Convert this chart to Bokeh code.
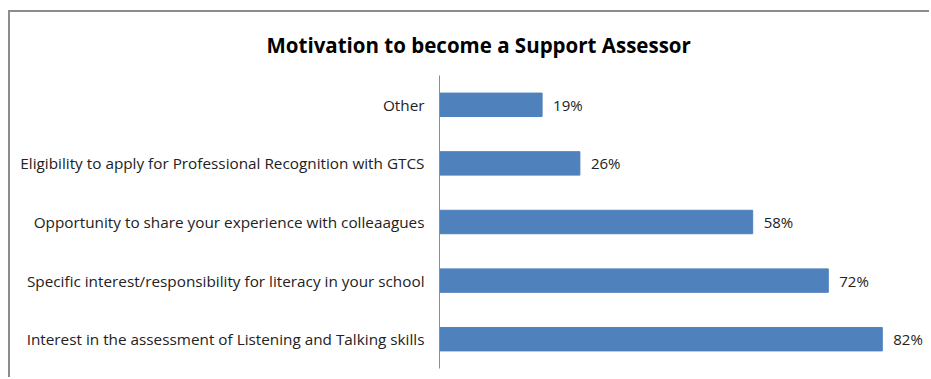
from bokeh.plotting import figure
from bokeh.models import ColumnDataSource, FactorRange, Range1d, LabelSet
from bokeh.core.properties import value
from bokeh.embed import file_html
from bokeh.resources import INLINE

# Survey responses, listed bottom to top
reasons = [
    "Interest in the assessment of Listening and Talking skills",
    "Specific interest/responsibility for literacy in your school",
    "Opportunity to share your experience with colleaagues",
    "Eligibility to apply for Professional Recognition with GTCS",
    "Other",
]
shares = [82, 72, 58, 26, 19]
share_labels = [f"{v}%" for v in shares]
chart_title = "Motivation to become a Support Assessor"

src = ColumnDataSource(dict(reason=reasons, share=shares, label=share_labels))

FONT = "Open Sans"

p = figure(
    width=921, height=367,
    y_range=FactorRange(factors=reasons, range_padding=0),
    x_range=Range1d(0, 90),
    output_backend="svg", toolbar_location=None,
    min_border_left=429, min_border_right=6,
    min_border_top=60, min_border_bottom=11,
    title=chart_title,
    styles={
        "margin-left": "8px", "margin-top": "10px",
        "border-left": "2px solid #8c8c8c", "border-top": "2px solid #8c8c8c",
    },
)
# title centred over the whole chart rather than over the plotting frame
p.title.align = "left"
p.title.offset = -173
p.title.text_font = FONT
p.title.text_font_size = "20.5px"
p.title.text_font_style = "bold"
p.title.text_color = "#000000"
p.title.standoff = 33

p.hbar(y="reason", right="share", height=0.4, source=src,
       fill_color="#4F81BD", line_color="#4F81BD")

p.add_layout(LabelSet(x="share", y="reason", text="label", source=src,
                      x_offset=11, text_baseline="middle",
                      text_font=value(FONT), text_font_size="15px",
                      text_color="#222222"))

p.xaxis.visible = False
p.xgrid.visible = False
p.ygrid.visible = False
p.outline_line_color = None

ax = p.yaxis[0]
ax.major_tick_line_color = None
ax.minor_tick_line_color = None
ax.major_tick_out = 0
ax.major_tick_in = 0
ax.axis_line_color = "#8c8c8c"
ax.major_label_text_font = FONT
ax.major_label_text_font_size = "15.3px"
ax.major_label_text_color = "#222222"
ax.major_label_standoff = 15

open("out.html", "w").write(file_html(p, INLINE))
